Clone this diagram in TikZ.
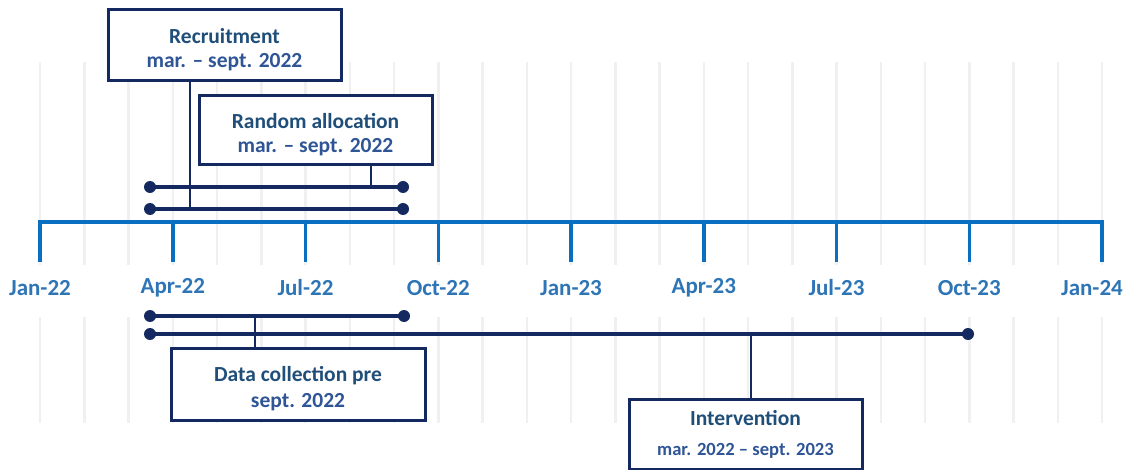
\documentclass[tikz,border=0pt]{standalone}
\usepackage{fontspec}
\setmainfont{Carlito}
\definecolor{axisblue}{HTML}{0A6FC0}
\definecolor{labelblue}{HTML}{2E75B6}
\definecolor{navy}{HTML}{13295F}
\definecolor{titleblue}{HTML}{1F4E79}
\definecolor{dateblue}{HTML}{2F5597}
\definecolor{gridgray}{HTML}{F0F0F0}
\begin{document}
\begin{tikzpicture}[x=1pt,y=-1pt,
  gridline/.style={draw=gridgray,line width=2.5pt},
  axisline/.style={draw=axisblue,line width=3.5pt},
  axislabel/.style={text=labelblue,font=\bfseries\fontsize{23}{26}\selectfont,inner sep=0pt},
  barline/.style={draw=navy,line width=3.5pt},
  bardot/.style={fill=navy},
  conn/.style={draw=navy,line width=2.8pt},
  infobox/.style={draw=navy,fill=white,line width=3pt,align=center,inner sep=0pt,
    font=\bfseries\fontsize{21.5}{24}\selectfont},
]
\useasboundingbox (0,0) rectangle (1126,470);
% grid
\foreach \i in {0,...,24}{
  \draw[gridline] (40+\i*44.25,62) -- (40+\i*44.25,265);
  \draw[gridline] (40+\i*44.25,317) -- (40+\i*44.25,423);
}
% axis
\foreach \k in {0,...,8}{
  \coordinate (t\k) at (40+\k*132.75,222);
  \coordinate (b\k) at (40+\k*132.75,262);
}
\draw[axisline,line cap=butt] (b0) -- (t0) -- (t8) -- (b8);
\foreach \k in {1,...,7}{ \draw[axisline] (t\k) -- (b\k); }
\foreach \k/\lab in {0/Jan-22,1/Apr-22,2/Jul-22,3/Oct-22,4/Jan-23,5/Apr-23,6/Jul-23,7/Oct-23}{
  \node[axislabel] (l\k) at (40+\k*132.75,288) {\lab};
}
\node[axislabel,anchor=east] (l8) at (1123,288) {Jan-24};
% bars
\coordinate (r1a) at (150,187); \coordinate (r1b) at (403,187);
\coordinate (r2a) at (150,209); \coordinate (r2b) at (403,209);
\coordinate (r3a) at (150,316); \coordinate (r3b) at (404,316);
\coordinate (r4a) at (150,334); \coordinate (r4b) at (968,334);
\foreach \r in {1,2,3,4}{
  \draw[barline] (r\r a) -- (r\r b);
  \fill[bardot] (r\r a) circle (6);
  \fill[bardot] (r\r b) circle (6);
}
% boxes
\node[infobox,minimum width=233,minimum height=71] (rec) at (224.5,45.5)
  {\rule{0pt}{24pt}\textcolor{titleblue}{Recruitment}\\\textcolor{dateblue}{mar. – sept. 2022}};
\node[infobox,minimum width=233,minimum height=69] (ran) at (315.5,130.5)
  {\rule{0pt}{24pt}\textcolor{titleblue}{Random allocation}\\\textcolor{dateblue}{mar. – sept. 2022}};
\node[infobox,minimum width=254,minimum height=72] (dat) at (298,384)
  {\rule{0pt}{24pt}\textcolor{titleblue}{Data collection pre}\\[2pt]\textcolor{dateblue}{sept. 2022}};
\node[infobox,minimum width=233,minimum height=70] (int) at (745.5,434)
  {\textcolor{titleblue}{Intervention}\\[6pt]\textcolor{dateblue}{\fontsize{18.6}{20}\selectfont mar. 2022 – sept. 2023}};
% connectors
\coordinate (recfoot) at (190,209);
\coordinate (ranfoot) at (371,187);
\coordinate (datfoot) at (255,316);
\coordinate (intfoot) at (751,334);
\draw[conn] (rec.south -| recfoot) -- (recfoot);
\draw[conn] (ran.south -| ranfoot) -- (ranfoot);
\draw[conn] (dat.north -| datfoot) -- (datfoot);
\draw[conn] (int.north -| intfoot) -- (intfoot);
\end{tikzpicture}
\end{document}
